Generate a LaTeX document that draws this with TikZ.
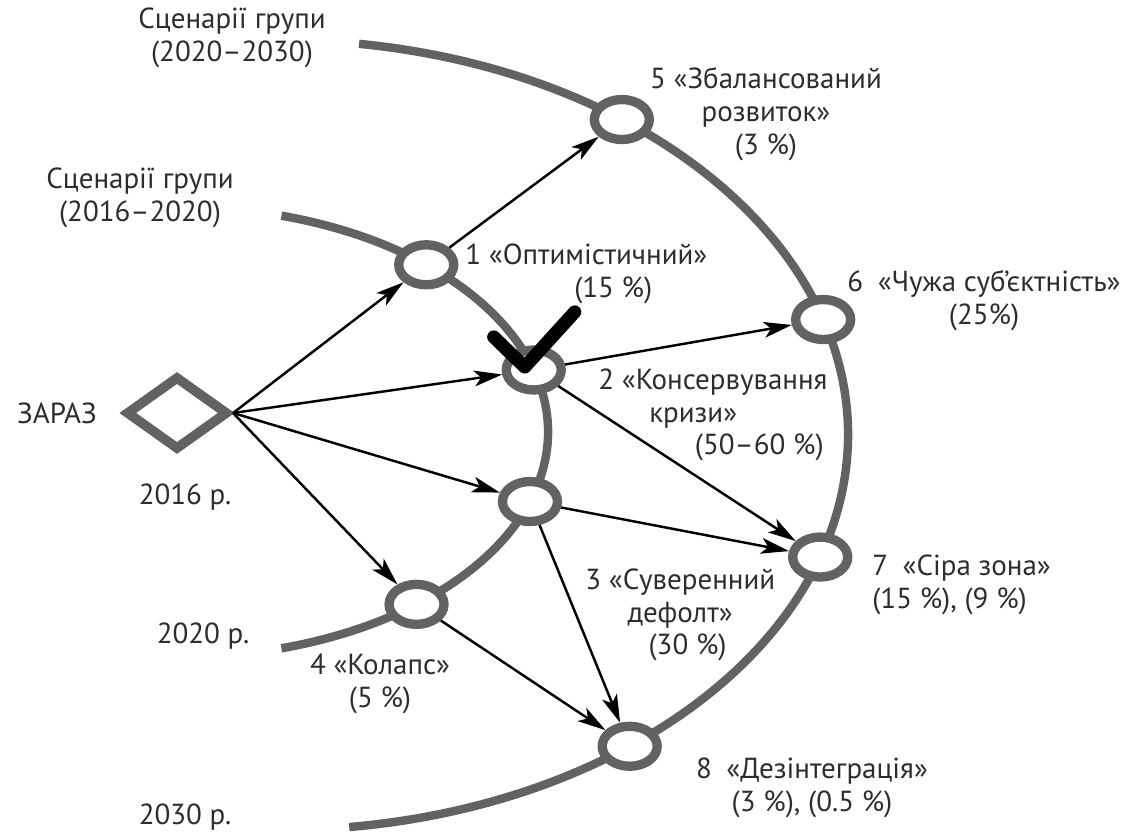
\documentclass[tikz,border=0pt]{standalone}
\usepackage{fontspec}
\setmainfont{PT Sans}
\usepackage{tikz}
\usetikzlibrary{calc,arrows.meta,positioning,shapes.geometric}
\definecolor{bandgray}{RGB}{98,98,98}
\definecolor{labelgray}{RGB}{45,45,45}

\begin{document}
\begin{tikzpicture}[x=0.02cm, y=-0.02cm,
    every node/.style={font=\fontsize{16.5}{18.7}\selectfont, text=labelgray, align=center, inner sep=0pt},
    state/.style={ellipse, draw=bandgray, line width=5.3pt, fill=white,
      minimum width=1.1cm, minimum height=0.8cm},
    band/.style={draw=bandgray, line width=4.8pt},
    flow/.style={-{Stealth[length=16pt,width=9pt,inset=4pt]}, line width=1.4pt, black}]
  \useasboundingbox (0,0) rectangle (1133,834);
  % two scenario bands
  \coordinate (inner) at (180,432);
  \coordinate (outer) at (280,435);
  \draw[band] (inner) ++(-74:368 and 225) arc[start angle=-74, end angle=74, x radius=368, y radius=225];
  \draw[band] (outer) ++(-82:568 and 395) arc[start angle=-82, end angle=83, x radius=568, y radius=395];
  \foreach \n/\ang in {1/-48,2/-16,3/18,4/50}
    \path (inner) ++(\ang:368 and 225) node[state] (c\n) {};
  \foreach \n/\ang in {5/-53,6/-17,7/18,8/52}
    \path (outer) ++(\ang:568 and 395) node[state] (c\n) {};
  \node[diamond, draw=bandgray, line width=5.5pt,
    minimum width=2.05cm, minimum height=1.48cm] (now) at (177,413) {};
  % transitions
  \foreach \a/\b in {now.east/c1,now.east/c2,now.east/c3,now.east/c4,
      c1/c5,c2/c6,c2/c7,c3/c7,c3/c8,c4/c8}
    \draw[flow] (\a) -- (\b);
  \draw[black, line width=7.5pt, line cap=round, line join=round]
    ([shift={(-40,-33)}]c2.center) -- ([shift={(-9,-3)}]c2.center) -- ([shift={(41,-58)}]c2.center);
  % labels
  \node (head2) at (232,38) {Сценарії групи\\(2020–2030)};
  \node (head1) at (140,198) {Сценарії групи\\(2016–2020)};
  \node (nowlbl) at (57,413) {ЗАРАЗ};
  \node (y2016) at (185,497) {2016 р.};
  \node (y2020) at (203,636) {2020 р.};
  \node (y2030) at (185,817) {2030 р.};
  \node[anchor=west, align=left] (l1) at (465,274) {1 «Оптимістичний»\\\hspace*{62pt}(15 \%)};
  \node[anchor=west, align=left] (l2) at (598,415) {2 «Консервування\\\hspace*{29pt}кризи»\\\hspace*{55pt}(50–60 \%)};
  \node[anchor=west, align=left] (l3) at (585,615) {3 «Суверенний\\\hspace*{24pt}дефолт»\\\hspace*{36pt}(30 \%)};
  \node (l4) at (380,684) {4 «Колапс»\\(5 \%)};
  \node (l5) at (766,114) {5 «Збалансований\\розвиток»\\(3 \%)};
  \node (l6) at (984,301) {6\enspace«Чужа суб’єктність»\\(25\%)};
  \node[anchor=west, align=left] (l7) at (872,585) {7\enspace«Сіра зона»\\(15 \%), (9 \%)};
  \node (l8) at (812,788) {8\enspace«Дезінтеграція»\\(3 \%), (0.5 \%)};
\end{tikzpicture}
\end{document}
